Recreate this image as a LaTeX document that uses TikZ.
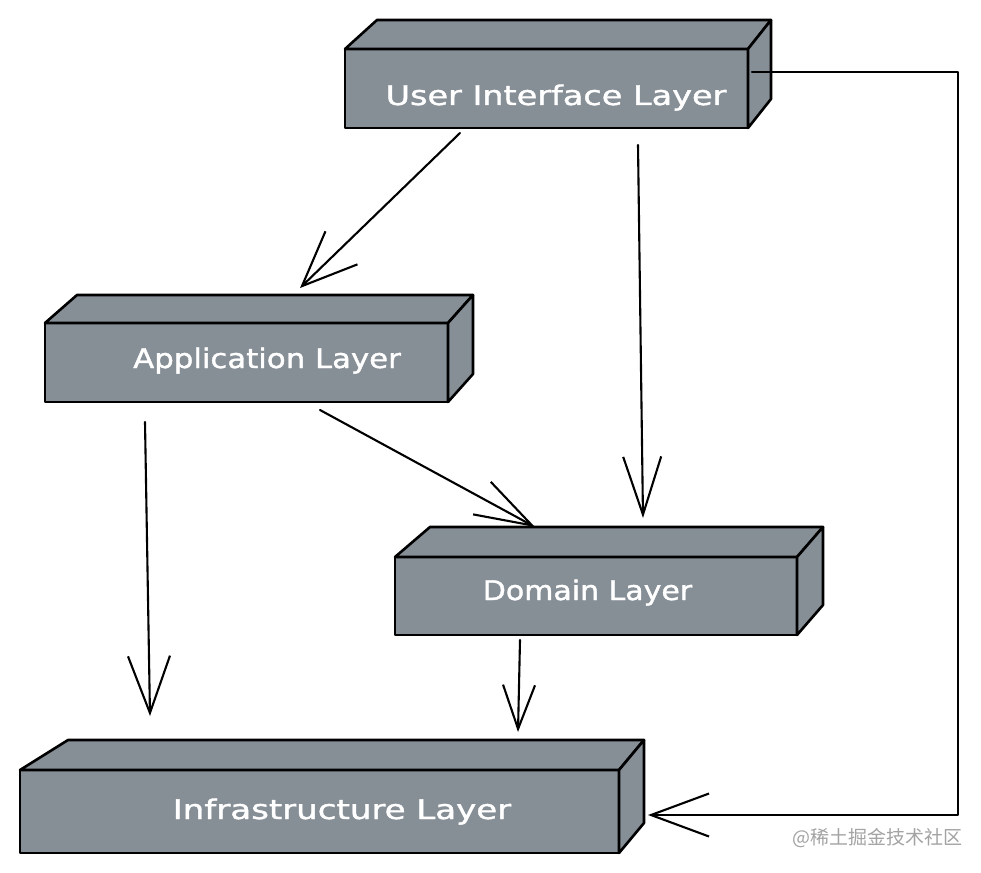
\documentclass[tikz,border=0pt]{standalone}
\usepackage{fontspec}
\newfontfamily\labelfont[FakeBold=1.3]{DejaVu Sans}
\newfontfamily\cjkfont{Noto Sans CJK SC}
\usetikzlibrary{arrows.meta,calc}
\definecolor{boxgray}{HTML}{868E96}
\definecolor{wmgray}{HTML}{A3A3A3}
\newcommand\boxfaces[4]{%
  \draw[face] (#1.north west) -- ++(#2,-#4) -- ($(#1.north east)+(#3,-#4)$) -- (#1.north east) -- cycle;
  \draw[face] (#1.north east) -- ++(#3,-#4) -- ($(#1.south east)+(#3,-#4)$) -- (#1.south east) -- cycle;
}
\begin{document}
\begin{tikzpicture}[x=1pt,y=-1pt,
  layer/.style={draw=black, fill=boxgray, line width=2.6pt, inner sep=0pt, outer sep=0pt, line join=round},
  face/.style={draw=black, fill=boxgray, line width=2.6pt, line join=round},
  lbl/.style={text=white, anchor=base, inner sep=0pt, font=\labelfont\fontsize{27}{32}\selectfont},
  arr/.style 2 args={draw=black, line width=2.1pt, line cap=round, line join=round, -{Straight Barb[length=#1,width=#2]}},
  wm/.style={text=wmgray, inner sep=0pt, font=\cjkfont\fontsize{19}{22}\selectfont}]
\fill[white] (0,0) rectangle (981,872);
\useasboundingbox (0,0) rectangle (981,872);

% boxes (front faces)
\node[layer, minimum width=403pt, minimum height=79pt] (ui) at (546.5,88.5) {};
\node[layer, minimum width=403pt, minimum height=79pt] (app) at (246.5,362.5) {};
\node[layer, minimum width=402pt, minimum height=78pt] (dom) at (596,596) {};
\node[layer, minimum width=599pt, minimum height=83pt] (infra) at (319.5,811.5) {};

\boxfaces{ui}{32}{23}{29}
\boxfaces{app}{32}{25}{28}
\boxfaces{dom}{35}{26}{30}
\boxfaces{infra}{48}{25}{30}

% labels
\node[lbl] (uilabel) at (556,105) {\scalebox{1.24}[1]{User Interface Layer}};
\node[lbl] (applabel) at (267,368) {\scalebox{1.14}[1]{Application Layer}};
\node[lbl] (domlabel) at (587.5,600) {\scalebox{1.11}[1]{Domain Layer}};
\node[lbl] (infralabel) at (342,819) {\scalebox{1.26}[1]{Infrastructure Layer}};

% connectors
\draw[arr={55pt}{46pt}] ([shift={(115,5)}]ui.south west) -- ([shift={(255,-35)}]app.north west);
\draw[arr={58pt}{38pt}] ([shift={(293,17)}]ui.south west) -- ([shift={(248,-39)}]dom.north west);
\draw[arr={57pt}{42pt}] ([shift={(100,20)}]app.south west) -- ([shift={(130,-54)}]infra.north west);
\draw[arr={57pt}{37pt}] ([shift={(275,8)}]app.south west) -- ([shift={(140,-30)}]dom.north west);
\draw[arr={44pt}{32pt}] ([shift={(125,5)}]dom.south west) -- ([shift={(498,-38)}]infra.north west);
\coordinate (bendA) at (958,72);
\coordinate (bendB) at (958,815);
\draw[arr={58pt}{43pt}] ([shift={(4,23)}]ui.north east) -- (bendA) -- (bendB) -- ([shift={(29,-38)}]infra.south east);

% watermark
\node[wm] (watermark) at (877,838) {@稀土掘金技术社区};
\end{tikzpicture}
\end{document}
